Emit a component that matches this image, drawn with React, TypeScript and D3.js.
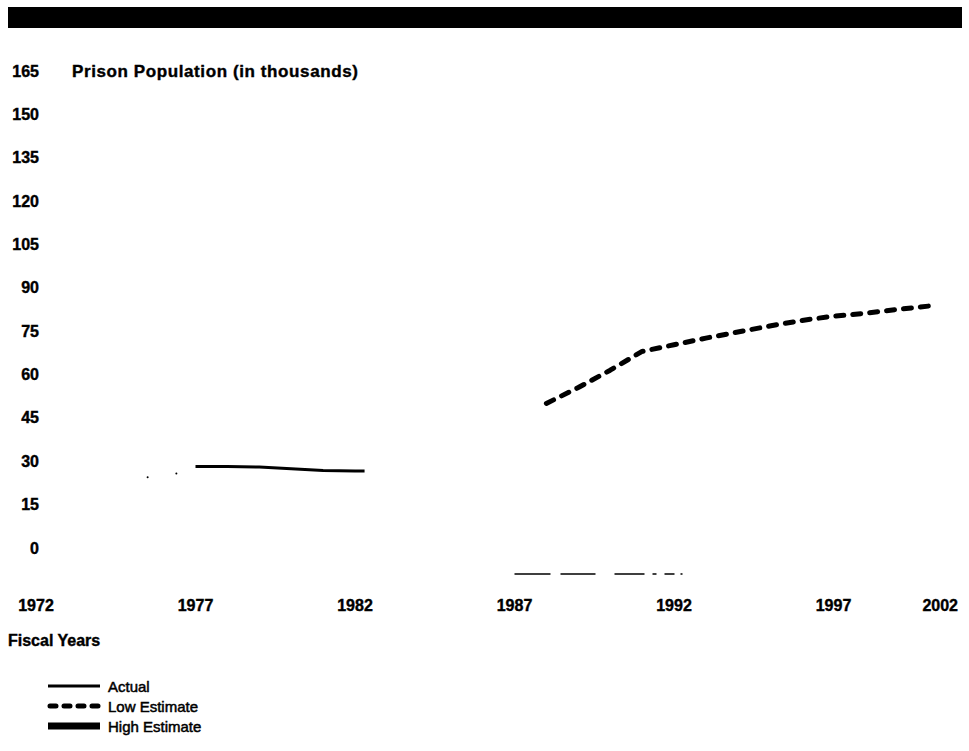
import React from 'react';
import * as d3 from 'd3';

// values (prison population, thousands)
const yTicks = [0, 15, 30, 45, 60, 75, 90, 105, 120, 135, 150, 165];
const xTicks = [1972, 1977, 1982, 1987, 1992, 1997, 2002];

const actualYears = [1977, 1978, 1979, 1980, 1981, 1982, 1982.3];
const actualValues = [28.2, 28.2, 28.0, 27.4, 26.8, 26.6, 26.6];

// stray specks of the actual series before 1977
const earlyYears = [1975.5, 1976.4];
const earlyValues = [24.5, 25.8];

const lowYears = [1988, 1989, 1990, 1991, 1992, 1993, 1994, 1995, 1996, 1997, 1998, 1999, 2000];
const lowValues = [50, 55.5, 61.5, 68, 70.3, 72.6, 74.7, 76.8, 78.7, 80.2, 81.2, 82.5, 83.7];

// broken trace of the high estimate near the bottom of the scan
const highYears = [1987, 1992.4];
const highValues = [-9, -9];

const legendItems = ['Actual', 'Low Estimate', 'High Estimate'];

const W = 969;
const H = 751;

export default function App() {
  const x = d3.scaleLinear().domain([1972, 1992]).range([36, 674]);
  const y = d3.scaleLinear().domain([0, 165]).range([548, 71]);

  const line = d3.line<[number, number]>()
    .x(d => x(d[0]))
    .y(d => y(d[1]));

  const actual = actualYears.map((yr, i) => [yr, actualValues[i]] as [number, number]);
  const low = lowYears.map((yr, i) => [yr, lowValues[i]] as [number, number]);
  const high = highYears.map((yr, i) => [yr, highValues[i]] as [number, number]);

  const font = '"Liberation Sans", Arial, sans-serif';
  const right = W - 11;

  return (
    <svg width={W} height={H} style={{ position: 'absolute', left: 0, top: 0, background: '#fff' }}>
      <rect x={8} y={7} width={954} height={21} fill="#000" />

      {/* y tick labels and title */}
      <g fontFamily={font} fontWeight="bold" fontSize={16} fill="#000" stroke="#000" strokeWidth={0.4}>
        {yTicks.map(t => (
          <text key={t} x={39} y={y(t)} textAnchor="end" dominantBaseline="central">{t}</text>
        ))}
        <text x={72} y={y(165)} dominantBaseline="central" fontSize={17} letterSpacing={0.6}>
          Prison Population (in thousands)
        </text>
      </g>

      {/* x tick labels */}
      <g fontFamily={font} fontWeight="bold" fontSize={16} fill="#000" stroke="#000" strokeWidth={0.4}>
        {xTicks.map(t => {
          const last = x(t) + 18 > right;
          return (
            <text key={t} x={last ? right : x(t)} y={605} textAnchor={last ? 'end' : 'middle'}
              dominantBaseline="central">{t}</text>
          );
        })}
        <text x={8} y={640} dominantBaseline="central">Fiscal Years</text>
      </g>

      {/* series */}
      <path d={line(actual) || ''} fill="none" stroke="#000" strokeWidth={3} />
      {earlyYears.map((yr, i) => (
        <circle key={yr} cx={x(yr)} cy={y(earlyValues[i])} r={1} fill="#000" />
      ))}
      <path d={line(low) || ''} fill="none" stroke="#000" strokeWidth={5}
        strokeDasharray="8 9" strokeLinecap="round" strokeLinejoin="round" />
      <path d={line(high) || ''} fill="none" stroke="#000" strokeWidth={1.3}
        strokeDasharray="36 10 35 19 30 8 4 8 10 6 2 100" />

      {/* legend */}
      <g fontFamily={font} fontSize={15} fill="#000" stroke="#000" strokeWidth={0.5}>
        {legendItems.map((name, i) => {
          const ly = 686 + i * 20;
          return (
            <g key={name}>
              {i === 0 && <line x1={48} x2={100} y1={ly} y2={ly} stroke="#000" strokeWidth={3} />}
              {i === 1 && <line x1={50} x2={100} y1={ly} y2={ly} stroke="#000" strokeWidth={5}
                strokeDasharray="6 8" strokeLinecap="round" />}
              {i === 2 && <line x1={48} x2={100} y1={ly} y2={ly} stroke="#000" strokeWidth={7} />}
              <text x={108} y={ly} dominantBaseline="central">{name}</text>
            </g>
          );
        })}
      </g>
    </svg>
  );
}
